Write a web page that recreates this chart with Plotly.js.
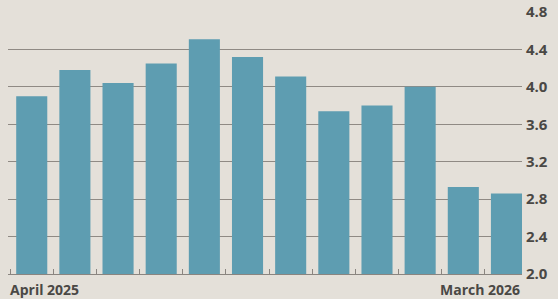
<!DOCTYPE html>
<html>
<head>
<meta charset="utf-8">
<script src="https://cdn.plot.ly/plotly-3.0.1.min.js"></script>
<style>
html,body{margin:0;padding:0;background:#e4e0d9;}
#chart{width:558px;height:299px;}
</style>
</head>
<body>
<div id="chart"></div>
<script>
const months = ['Apr 2025','May 2025','Jun 2025','Jul 2025','Aug 2025','Sep 2025','Oct 2025','Nov 2025','Dec 2025','Jan 2026','Feb 2026','Mar 2026'];
const values = [3.90, 4.18, 4.04, 4.25, 4.51, 4.32, 4.11, 3.74, 3.80, 4.00, 2.93, 2.86];
const yTicks = [2.0, 2.4, 2.8, 3.2, 3.6, 4.0, 4.4, 4.8];
const firstLabel = 'April 2025';
const lastLabel = 'March 2026';

const textColor = '#4a4845';
const fontFam = '"Open Sans", "Liberation Sans", sans-serif';

Plotly.newPlot('chart', [{
  type: 'bar',
  x: months,
  y: values,
  marker: {color: '#5e9db1', line: {width: 0}},
  hoverinfo: 'skip'
}], {
  width: 558, height: 299,
  margin: {l: 8, r: 36, t: 12, b: 25},
  paper_bgcolor: '#e4e0d9',
  plot_bgcolor: '#e4e0d9',
  bargap: 0.28,
  showlegend: false,
  xaxis: {
    type: 'category',
    range: [-0.55, 11.36],
    showticklabels: false,
    showgrid: false,
    zeroline: false,
    showline: true,
    linecolor: '#8a8580',
    linewidth: 1,
    ticks: 'inside',
    tickson: 'boundaries',
    ticklen: 5,
    tickcolor: '#8a8580',
    tickwidth: 1
  },
  yaxis: {
    side: 'right',
    range: [2.0, 4.8],
    tickvals: yTicks,
    tickformat: '.1f',
    showgrid: true,
    gridcolor: '#8f8a84',
    gridwidth: 1,
    zeroline: false,
    showline: false,
    ticks: '',
    ticklabelstandoff: 3,
    tickfont: {family: fontFam, size: 15, color: textColor, weight: 'bold'}
  },
  annotations: [
    {xref: 'paper', yref: 'paper', x: 0, y: 0, xanchor: 'left', yanchor: 'top', yshift: -4,
     text: firstLabel, showarrow: false,
     font: {family: fontFam, size: 14, color: textColor, weight: 'bold'}},
    {xref: 'paper', yref: 'paper', x: 1, y: 0, xanchor: 'right', yanchor: 'top', yshift: -4,
     text: lastLabel, showarrow: false,
     font: {family: fontFam, size: 14, color: textColor, weight: 'bold'}}
  ]
}, {staticPlot: true, displayModeBar: false});
</script>
</body>
</html>
